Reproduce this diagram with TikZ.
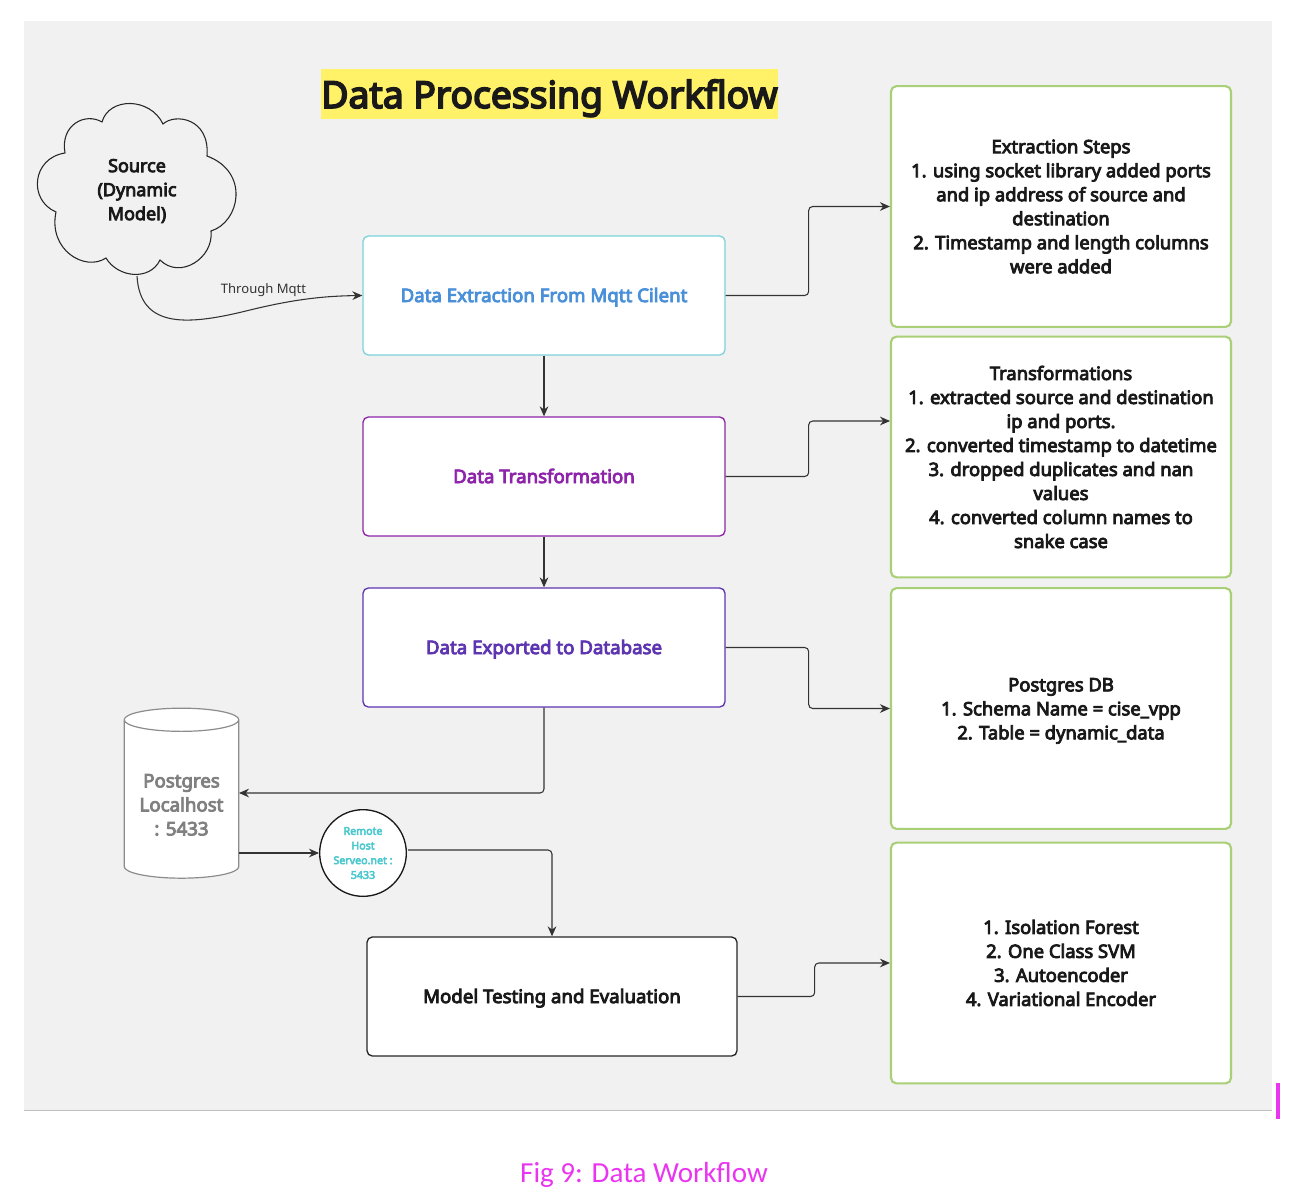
\documentclass[tikz,border=0pt]{standalone}
\usepackage{fontspec}
\setmainfont{Noto Sans}[BoldFont={Noto Sans},BoldFeatures={FakeBold=4.5}]
\newfontfamily\captionfont{Carlito}
\usetikzlibrary{arrows.meta,positioning,calc,shapes.geometric}

\begin{document}
\begin{tikzpicture}[x=0.75pt,y=-0.75pt]
\colorlet{panel fill}{black!5.5}
\definecolor{step edge}{HTML}{A9D076}
\definecolor{extract edge}{HTML}{7CD3DA}
\definecolor{extract text}{HTML}{4A90D9}
\definecolor{transform edge}{HTML}{8E24AA}
\definecolor{export edge}{HTML}{5E35B1}
\definecolor{remote text}{HTML}{4CC9CF}
\definecolor{caption pink}{HTML}{EA35F0}
\definecolor{title mark}{HTML}{FFF168}
\tikzset{
     body/.style={font=\bfseries\fontsize{14}{18}\selectfont,align=center,text=black!90},
     stage/.style={body,draw,fill=white,line width=1pt,rounded corners=4pt,minimum width=271.5pt,minimum height=89.25pt,text height=12pt,text depth=2.2pt},
     stepbox/.style={body,font=\bfseries\fontsize{13.8}{18}\selectfont,draw=step edge,fill=white,line width=1.6pt,rounded corners=4pt,minimum width=255pt,minimum height=180.5pt},
     link/.style={draw=black!80,line width=0.8pt,rounded corners=3pt,-{Stealth[length=7.5pt,width=6.5pt]}}}

\useasboundingbox (0,0) rectangle (1298,1202);
\fill[white] (0,0) rectangle (1298,1202);
\fill[panel fill] (24,21) rectangle (1272,1110);
\draw[black!25,line width=0.6pt] (24,1110) -- (1272,1110);
\fill[caption pink] (1276,1083) rectangle (1280,1119);

% The title and caption
\node (title) at (549.5,94) [fill=title mark,inner sep=0pt,minimum width=342.75pt,minimum height=37.5pt,font=\bfseries\fontsize{27.9}{30}\selectfont,text=black!90,text height=24pt,text depth=3pt] {Data Processing Workflow};
\node (caption) at (644,1175) [font=\captionfont\fontsize{21.8}{24}\selectfont,text=caption pink] {Fig 9: Data Workflow};

% The cloud
\draw[fill=panel fill,line width=0.8pt,draw=black!85] (102,122)
  .. controls (109,97) and (150,97) .. (163,124)
  .. controls (175,113) and (210,118) .. (207,156)
  .. controls (250,172) and (240,222) .. (211,231)
  .. controls (214,258) and (180,280) .. (160,260)
  .. controls (150,281) and (118,278) .. (106,258)
  .. controls (85,272) and (48,250) .. (56,212)
  .. controls (28,200) and (32,158) .. (65,153)
  .. controls (60,125) and (85,112) .. (102,122) -- cycle;
\node (source) at (137,191) [body,inner sep=0pt,font=\bfseries\fontsize{13.5}{18}\selectfont] {Source\\(Dynamic\\Model)};
\coordinate (source out) at (137,276);

% The stages
\node (extract) at (544,295.5) [stage,draw=extract edge,text=extract text] {Data Extraction From Mqtt Cilent};
\node (transform) [stage,below=45.5pt of extract,draw=transform edge,text=transform edge] {Data Transformation};
\node (export) [stage,below=38pt of transform,draw=export edge,text=export edge] {Data Exported to Database};
\node (model) at (552,996.5) [stage,draw=black!85,minimum width=277.5pt] {Model Testing and Evaluation};

% The steps on the right
\node (extractsteps) at (1061,206.5) [stepbox] {Extraction Steps\\1. using socket library added ports\\and ip address of source and\\destination\\2. Timestamp and length columns\\were added};
\node (transformsteps) at (1061,457) [stepbox] {Transformations\\1. extracted source and destination\\ip and ports.\\2. converted timestamp to datetime\\3. dropped duplicates and nan\\values\\4. converted column names to\\snake case};
\node (exportsteps) at (1061,708.5) [stepbox] {\rule{0pt}{13.5pt}Postgres DB\\1. Schema Name = cise\_vpp\\2. Table = dynamic\_data};
\node (modelsteps) at (1061,963) [stepbox] {1. Isolation Forest\\2. One Class SVM\\3. Autoencoder\\4. Variational Encoder};

% The database and the remote host
\node (postgres) at (181.5,801.5) [cylinder,shape border rotate=90,shape aspect=0.25,draw=black!45,fill=white,cylinder uses custom fill,cylinder body fill=white,cylinder end fill=white,line width=0.9pt,minimum width=86pt,minimum height=127.5pt,body,text=black!50] {\rule{0pt}{15pt}Postgres\\Localhost\\: 5433};
\node (remote) at (363,853) [circle,draw=black!90,fill=white,line width=1pt,minimum size=65pt,inner sep=0pt,font=\bfseries\fontsize{8}{11}\selectfont,align=center,text=remote text] {Remote\\Host\\Serveo.net :\\5433};

% The connectors
\coordinate (postgres in) at (239,793);
\coordinate (postgres out) at (239,853);
\coordinate (remote out) at (408,850);
\coordinate (transform in) at (890,421);
\draw[link,rounded corners=0pt] (source out) .. controls (140,330) and (190,325) .. (250,310) .. controls (295,299) and (325,296) .. (extract.west);
\node (mqtt) at (263.5,290) [font=\fontsize{9.8}{12}\selectfont,text=black!80] {Through Mqtt};
\draw[link] (extract) -- (transform);
\draw[link] (transform) -- (export);
\draw[link] (extract.east) -- ++(83,0) |- (extractsteps.west);
\draw[link] (transform.east) -- ++(83,0) |- (transform in);
\draw[link] (export.east) -- ++(83,0) |- (exportsteps.west);
\draw[link] (model.east) -- ++(77,0) |- (modelsteps.west);
\draw[link] (export.south) |- (postgres in);
\draw[link] (postgres out) -- (remote.west);
\draw[link] (remote out) -| (model.north);
\end{tikzpicture}
\end{document}
